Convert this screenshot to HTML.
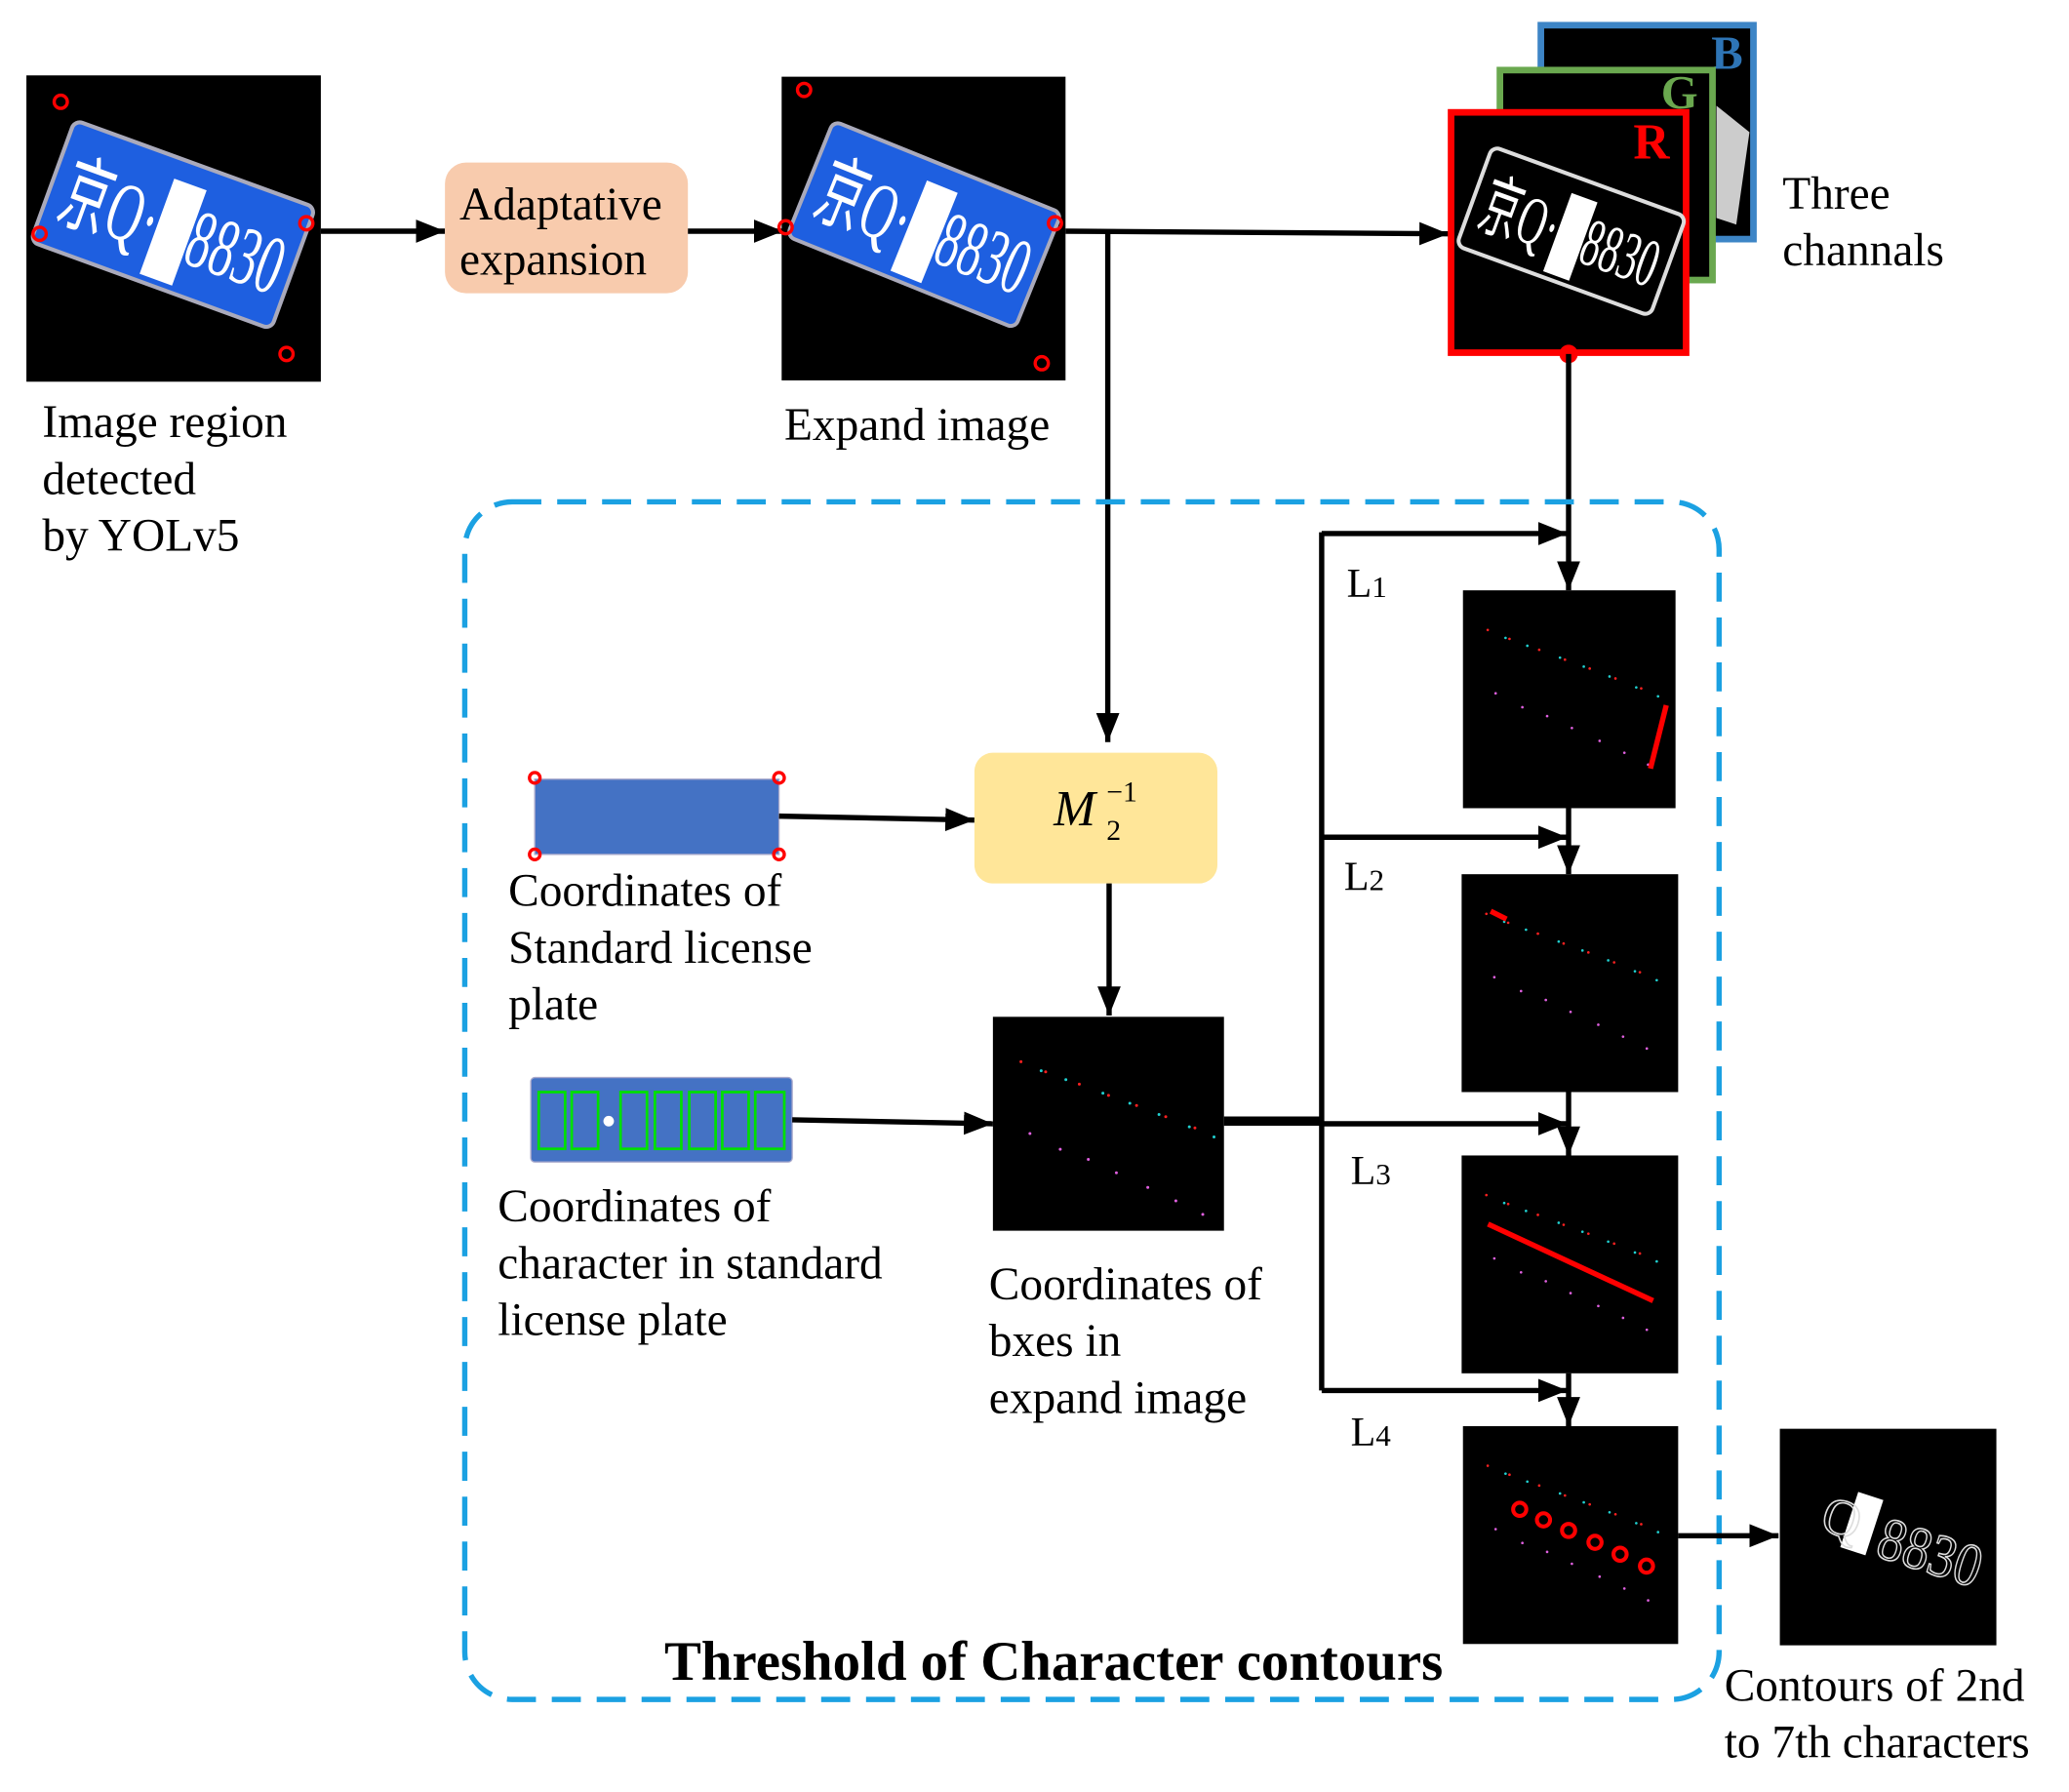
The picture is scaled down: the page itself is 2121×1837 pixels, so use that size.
<!DOCTYPE html>
<html><head><meta charset="utf-8"><style>
html,body{margin:0;padding:0;background:#fff;}
svg{display:block;}
text{font-family:"Liberation Serif",serif;}
</style></head><body>
<svg width="2121" height="1837" viewBox="0 0 1567 1357" xmlns="http://www.w3.org/2000/svg">
<defs>
<marker id="a2" viewBox="0 0 10 10" refX="10" refY="5" markerWidth="22" markerHeight="22" orient="auto" markerUnits="userSpaceOnUse"><path d="M0,1 L10,5 L0,9 z" fill="#000"/></marker>
<g id="dots">
<g fill="#ff2020"><circle cx="25" cy="40" r="1.3"/><circle cx="47" cy="49" r="1.3"/><circle cx="77" cy="60" r="1.3"/><circle cx="103" cy="70" r="1.3"/><circle cx="128" cy="79" r="1.3"/><circle cx="154" cy="89" r="1.3"/><circle cx="180" cy="99" r="1.3"/></g>
<g fill="#20d0d0"><circle cx="43" cy="48" r="1.3"/><circle cx="65" cy="56" r="1.3"/><circle cx="98" cy="68" r="1.3"/><circle cx="122" cy="77" r="1.3"/><circle cx="148" cy="87" r="1.3"/><circle cx="175" cy="98" r="1.3"/><circle cx="197" cy="107" r="1.3"/></g>
<g fill="#e060e0"><circle cx="33" cy="104" r="1.3"/><circle cx="60" cy="118" r="1.3"/><circle cx="85" cy="127" r="1.3"/><circle cx="110" cy="139" r="1.3"/><circle cx="138" cy="152" r="1.3"/><circle cx="163" cy="164" r="1.3"/><circle cx="187" cy="176" r="1.3"/></g>
</g>
<g id="plate">
<rect x="-95" y="-48" width="190" height="96" rx="6" fill="#1e5fe0" stroke="#aab" stroke-width="3"/>
<text x="-85" y="24" font-size="62" fill="#fff" textLength="172" lengthAdjust="spacingAndGlyphs" font-family="Liberation Sans, Noto Sans CJK SC, sans-serif">京Q·█8830</text>
</g>
</defs>

<rect x="20" y="57" width="223" height="232" fill="#000"/>
<use href="#plate" transform="translate(131,170) rotate(20) scale(1.02)"/>
<g fill="none" stroke="#f00" stroke-width="2.5"><circle cx="46" cy="77" r="5"/><circle cx="30" cy="177" r="5"/><circle cx="232" cy="169" r="5"/><circle cx="217" cy="268" r="5"/></g>

<line x1="243" y1="175" x2="337" y2="175" stroke="#000" stroke-width="4" marker-end="url(#a2)"/>
<rect x="337" y="123" width="184" height="99" rx="16" fill="#f8cbad"/>
<text x="348" y="166" font-size="35">Adaptative</text>
<text x="348" y="208" font-size="35">expansion</text>
<line x1="521" y1="175" x2="593" y2="175" stroke="#000" stroke-width="4" marker-end="url(#a2)"/>

<rect x="592" y="58" width="215" height="230" fill="#000"/>
<use href="#plate" transform="translate(700,170) rotate(22) scale(0.98)"/>
<g fill="none" stroke="#f00" stroke-width="2.5"><circle cx="609" cy="68" r="5"/><circle cx="595" cy="172" r="5"/><circle cx="799" cy="169" r="5"/><circle cx="789" cy="275" r="5"/></g>

<line x1="807" y1="175" x2="1097" y2="177" stroke="#000" stroke-width="4" marker-end="url(#a2)"/>
<line x1="839" y1="175" x2="839" y2="562" stroke="#000" stroke-width="4" marker-end="url(#a2)"/>

<rect x="1167" y="19" width="161" height="162" fill="#000" stroke="#3d85c6" stroke-width="5"/>
<text x="1296" y="52" font-size="36" font-weight="bold" fill="#2e75b6">B</text>
<rect x="1136" y="53" width="161" height="159" fill="#000" stroke="#6aa84f" stroke-width="5"/>
<path d="M1300 80 L1325 100 L1315 170 L1300 165 z" fill="#ccc"/>
<text x="1258" y="82" font-size="36" font-weight="bold" fill="#6aa84f">G</text>
<rect x="1099" y="85" width="178" height="182" fill="#000" stroke="#f00" stroke-width="5"/>
<g transform="translate(1190,175) rotate(20)">
<rect x="-78" y="-40" width="156" height="80" rx="6" fill="#000" stroke="#ddd" stroke-width="3"/>
<text x="-70" y="20" font-size="52" fill="#fff" textLength="140" lengthAdjust="spacingAndGlyphs" font-family="Liberation Sans, Noto Sans CJK SC, sans-serif">京Q·█8830</text>
</g>
<text x="1237" y="120" font-size="38" font-weight="bold" fill="#f00">R</text>
<circle cx="1188" cy="268" r="7" fill="#f00"/>
<text x="1350" y="158" font-size="35">Three</text>
<text x="1350" y="201" font-size="35">channals</text>
<line x1="1188" y1="268" x2="1188" y2="447" stroke="#000" stroke-width="4" marker-end="url(#a2)"/>

<text x="32" y="331" font-size="35">Image region</text>
<text x="32" y="374" font-size="35">detected</text>
<text x="32" y="417" font-size="35">by YOLv5</text>
<text x="594" y="333" font-size="35">Expand image</text>

<rect x="352" y="380" width="950" height="907" rx="36" fill="none" stroke="#1ba1e2" stroke-width="4" stroke-dasharray="22,12"/>

<rect x="405" y="590" width="185" height="57" fill="#4472c4" stroke="#aac" stroke-width="1"/>
<g fill="none" stroke="#f00" stroke-width="2.5"><circle cx="405" cy="589" r="4"/><circle cx="590" cy="589" r="4"/><circle cx="405" cy="647" r="4"/><circle cx="590" cy="647" r="4"/></g>
<line x1="590" y1="618" x2="738" y2="621" stroke="#000" stroke-width="4" marker-end="url(#a2)"/>
<text x="385" y="686" font-size="35">Coordinates of</text>
<text x="385" y="729" font-size="35">Standard license</text>
<text x="385" y="772" font-size="35">plate</text>

<rect x="738" y="570" width="184" height="99" rx="14" fill="#ffe699"/>
<text x="798" y="625" font-size="38" font-style="italic">M</text>
<text x="838" y="636" font-size="22">2</text>
<text x="838" y="607" font-size="22">−1</text>
<line x1="840" y1="669" x2="840" y2="769" stroke="#000" stroke-width="4" marker-end="url(#a2)"/>

<rect x="402" y="816" width="198" height="64" rx="3" fill="#4472c4" stroke="#aac" stroke-width="1"/>
<g fill="none" stroke="#00e000" stroke-width="2">
<rect x="408" y="827" width="20" height="43"/><rect x="433" y="827" width="20" height="43"/><rect x="470" y="827" width="20" height="43"/><rect x="496" y="827" width="20" height="43"/><rect x="522" y="827" width="20" height="43"/><rect x="547" y="827" width="20" height="43"/><rect x="572" y="827" width="22" height="43"/></g>
<circle cx="461" cy="849" r="4" fill="#fff"/>
<line x1="600" y1="848" x2="752" y2="851" stroke="#000" stroke-width="4" marker-end="url(#a2)"/>
<text x="377" y="925" font-size="35">Coordinates of</text>
<text x="377" y="968" font-size="35">character in standard</text>
<text x="377" y="1011" font-size="35">license plate</text>

<rect x="752" y="770" width="175" height="162" fill="#000"/>
<use href="#dots" transform="translate(752,770) scale(0.85)"/>
<text x="749" y="984" font-size="35">Coordinates of</text>
<text x="749" y="1027" font-size="35">bxes in</text>
<text x="749" y="1070" font-size="35">expand image</text>

<line x1="927" y1="849" x2="1001" y2="849" stroke="#000" stroke-width="7"/>
<line x1="1001" y1="403" x2="1001" y2="1053" stroke="#000" stroke-width="4"/>
<g stroke="#000" stroke-width="4">
<line x1="1001" y1="404" x2="1187" y2="404" marker-end="url(#a2)"/>
<line x1="1001" y1="634" x2="1187" y2="634" marker-end="url(#a2)"/>
<line x1="1001" y1="851" x2="1187" y2="851" marker-end="url(#a2)"/>
<line x1="1001" y1="1053" x2="1187" y2="1053" marker-end="url(#a2)"/>
<line x1="1188" y1="612" x2="1188" y2="662" marker-end="url(#a2)"/>
<line x1="1188" y1="827" x2="1188" y2="875" marker-end="url(#a2)"/>
<line x1="1188" y1="1040" x2="1188" y2="1080" marker-end="url(#a2)"/>
</g>
<text x="1020" y="452" font-size="31">L<tspan font-size="23">1</tspan></text>
<text x="1018" y="674" font-size="31">L<tspan font-size="23">2</tspan></text>
<text x="1023" y="897" font-size="31">L<tspan font-size="23">3</tspan></text>
<text x="1023" y="1095" font-size="31">L<tspan font-size="23">4</tspan></text>

<rect x="1108" y="447" width="161" height="165" fill="#000"/>
<use href="#dots" transform="translate(1108,447) scale(0.75)"/>
<line x1="1262" y1="534" x2="1250" y2="582" stroke="#f00" stroke-width="4"/>
<rect x="1107" y="662" width="164" height="165" fill="#000"/>
<use href="#dots" transform="translate(1107,662) scale(0.75)"/>
<line x1="1129" y1="690" x2="1141" y2="696" stroke="#f00" stroke-width="4"/>
<rect x="1107" y="875" width="164" height="165" fill="#000"/>
<use href="#dots" transform="translate(1107,875) scale(0.75)"/>
<line x1="1127" y1="927" x2="1252" y2="985" stroke="#f00" stroke-width="4"/>
<rect x="1108" y="1080" width="163" height="165" fill="#000"/>
<use href="#dots" transform="translate(1108,1080) scale(0.75)"/>
<g fill="none" stroke="#f00" stroke-width="3"><circle cx="1151" cy="1143" r="5"/><circle cx="1169" cy="1151" r="5"/><circle cx="1188" cy="1159" r="5"/><circle cx="1208" cy="1168" r="5"/><circle cx="1227" cy="1177" r="5"/><circle cx="1247" cy="1186" r="5"/></g>

<line x1="1271" y1="1163" x2="1347" y2="1163" stroke="#000" stroke-width="4" marker-end="url(#a2)"/>
<rect x="1348" y="1082" width="164" height="164" fill="#000"/>
<g transform="translate(1438,1165) rotate(18)">
<rect x="-40" y="-24" width="20" height="44" fill="#fff"/>
<text x="-14" y="18" font-size="46" fill="none" stroke="#ddd" stroke-width="1.2" textLength="80" lengthAdjust="spacingAndGlyphs" font-family="Liberation Sans, sans-serif">8830</text>
<text x="-60" y="12" font-size="40" fill="none" stroke="#ddd" stroke-width="1.2" font-family="Liberation Sans, sans-serif">Q</text>
</g>

<text x="798" y="1272" font-size="42" font-weight="bold" text-anchor="middle">Threshold of Character contours</text>
<text x="1306" y="1288" font-size="35">Contours of 2nd</text>
<text x="1306" y="1331" font-size="35">to 7th characters</text>
</svg>
</body></html>
